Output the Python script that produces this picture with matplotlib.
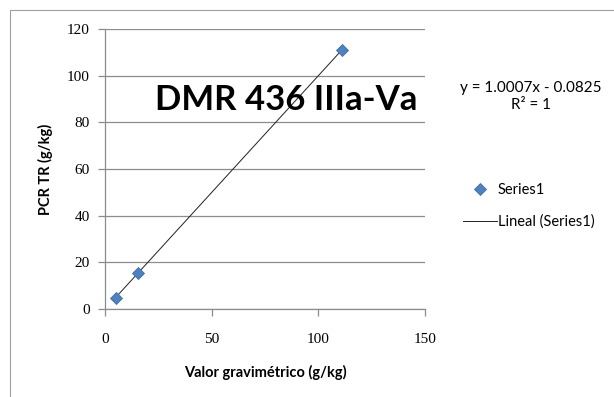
import numpy as np
import matplotlib
matplotlib.use("Agg")
import matplotlib.pyplot as plt
from matplotlib.patches import Rectangle

# valores
grav = [5.0, 15.7, 111.0]
pcr = [4.9, 15.4, 111.0]
slope = 1.0007
intercept = -0.0825
xticks = [0, 50, 100, 150]
yticks = [0, 20, 40, 60, 80, 100, 120]

sans = ["Lato", "DejaVu Sans"]
serif = ["Liberation Serif", "DejaVu Serif"]

fig = plt.figure(figsize=(6.14, 3.97), dpi=100)
fig.patches.append(Rectangle((10 / 614, -0.1), 1.2, 1 - 10 / 397 + 0.1,
                             transform=fig.transFigure, fill=False,
                             edgecolor="#a0a0a0", lw=0.8))
ax = fig.add_axes([105 / 614, 1 - 309 / 397, 320 / 614, 280 / 397])

ax.plot(grav, pcr, "D", color="#4f81bd", markersize=6.5,
        markeredgecolor="#3f6fa8", markeredgewidth=0.6, label="Series1", zorder=3)
xx = np.array([min(grav), max(grav)])
ax.plot(xx, slope * xx + intercept, color="#202020", lw=0.7,
        label="Lineal (Series1)", zorder=2)

ax.set_xlim(0, 150)
ax.set_ylim(0, 120)
ax.set_xticks(xticks)
ax.set_yticks(yticks)
ax.yaxis.grid(True, color="#8c8c8c", lw=0.9)
ax.set_axisbelow(True)
for s in ["top", "right"]:
    ax.spines[s].set_visible(False)
for s in ["left", "bottom"]:
    ax.spines[s].set_color("#8c8c8c")
    ax.spines[s].set_linewidth(0.9)
ax.tick_params(direction="out", length=5, color="#8c8c8c", width=0.9,
               labelsize=11)
ax.tick_params(axis="x", pad=12)
ax.tick_params(axis="y", pad=6)
for lab in ax.get_xticklabels() + ax.get_yticklabels():
    lab.set_family(serif)

ax.set_xlabel("Valor gravimétrico (g/kg)", family=sans, fontsize=10.5,
              fontweight="bold", labelpad=14)
ax.set_ylabel("PCR TR (g/kg)", family=sans, fontsize=10.5,
              fontweight="bold", labelpad=10)

ax.text(0.565, 0.745, "DMR 436 IIIa-Va", transform=ax.transAxes, family=sans,
        fontsize=25, fontweight="bold", ha="center", va="center")

fig.text(531 / 614, 1 - 88 / 397, "y = 1.0007x - 0.0825", family=sans,
         fontsize=11, ha="center", va="center")
fig.text(531 / 614, 1 - 105 / 397, "R² = 1", family=sans,
         fontsize=11, ha="center", va="center")

fig.legend(loc="center left", bbox_to_anchor=(463 / 614, 1 - 206 / 397),
           frameon=False, prop={"family": sans, "size": 10.5},
           borderpad=0, borderaxespad=0,
           handlelength=2.3, handletextpad=0.1, labelspacing=1.2)

fig.savefig("out.png", dpi=100)
